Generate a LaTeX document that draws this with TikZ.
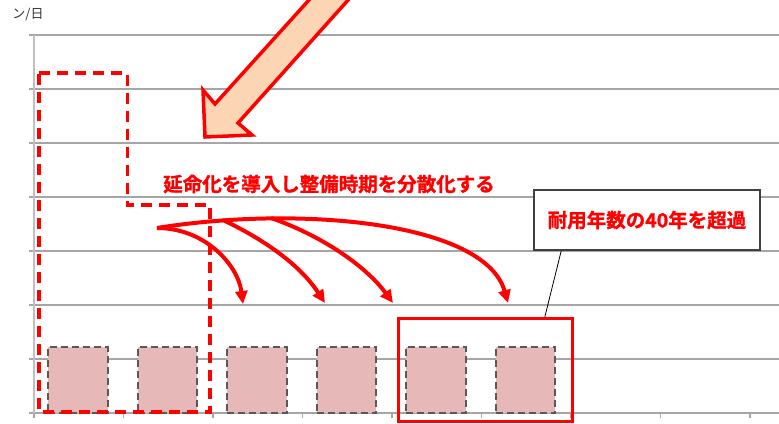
\documentclass[tikz,border=0pt]{standalone}
\usepackage{fontspec}
\newfontfamily\jp{Noto Sans CJK JP}
\newfontfamily\jpb[BoldFont={* Bold}, BoldFeatures={FakeBold=1.3}]{Noto Sans CJK JP}
\usetikzlibrary{arrows.meta,calc}
\definecolor{gridc}{HTML}{A6A6A6}
\definecolor{axisc}{HTML}{C0C0C0}
\definecolor{barfill}{HTML}{E6B9B8}
\definecolor{barline}{HTML}{595959}
\definecolor{arrowfill}{HTML}{FCD5B5}
\definecolor{redc}{HTML}{FF0000}
\definecolor{boxline}{HTML}{404040}
\tikzset{
  gridline/.style={draw=gridc, line width=1.3pt},
  axisline/.style={draw=axisc, line width=2pt},
  bar/.style={draw=barline, fill=barfill, line width=2pt, dash pattern=on 7pt off 4pt,
              minimum width=59.5pt, minimum height=66pt, inner sep=0pt},
  reddash/.style={draw=redc, line width=3.2pt, dash pattern=on 11pt off 7pt},
  bigarrow/.style={draw=redc, fill=arrowfill, line width=3.5pt, line join=miter},
  redtext/.style={text=redc, font=\jpb\bfseries\fontsize{19.5}{22}\selectfont, inner sep=0pt},
  callout/.style={draw=boxline, fill=white, line width=1.5pt, minimum width=226pt,
                  minimum height=60pt, text=redc, font=\jpb\bfseries\fontsize{19.5}{22}\selectfont},
  redbox/.style={draw=redc, line width=3pt, minimum width=173.7pt, minimum height=103.4pt, inner sep=0pt},
  pointer/.style={draw=black, line width=0.8pt},
  curvearrow/.style={draw=redc, line width=4pt, -{Triangle[length=13pt,width=12pt]}},
  unitlabel/.style={font=\jp\fontsize{13}{15}\selectfont, text=black!80, inner sep=0pt}
}
\begin{document}
\begin{tikzpicture}[x=1pt,y=-1pt]
\useasboundingbox (0,0) rectangle (779,423);
\clip (0,0) rectangle (779,423);
% grid
\foreach \y in {35,89,143,197,251,305,359,413}
  \draw[gridline] (29,\y) -- (779,\y);
\draw[axisline] (34,35) -- (34,418);
\foreach \x in {34,123.5,213,302.5,392,481.5,571,660.5,750}
  \draw[gridline] (\x,413) -- (\x,418);
\node[unitlabel] (unit) at (28,15) {ン/日};
% bars
\foreach \i/\x in {1/78,2/167.5,3/257,4/346.5,5/436,6/525.5}
  \node[bar] (b\i) at (\x,380) {};
% red dashed outline
\draw[reddash] (39,73) -- (127.5,73) -- (127.5,205) -- (210,205) -- (210,412) -- (39,412) -- cycle;
% big block arrow
\filldraw[bigarrow] (205,137) -- (203,90) -- (215,104) -- (327,-20) -- (366,-20) -- (238,123) -- (252,135) -- cycle;
% label
\node[redtext] (lbl) at (329,184) {延命化を導入し整備時期を分散化する};
% red box and callout
\node[redbox] (rb) at (485.2,370) {};
\node[callout] (co) at (647,220) {耐用年数の40年を超過};
\draw[pointer] ($(co.south west)+(28,0)$) -- ($(rb.north west)+(148,0)$);
% curved arrows
\coordinate (s) at (157,228);
\coordinate (br2) at (223,220);
\coordinate (br3) at (271,218);
\coordinate (t1) at (243,304);
\coordinate (t2) at (325,303);
\coordinate (t3) at (393,303);
\coordinate (t4) at (508,303);
\draw[curvearrow] (s) .. controls (300,205) and (485,222) .. (t4);
\draw[curvearrow] (br3) .. controls (320,235) and (365,265) .. (t3);
\draw[curvearrow] (br2) .. controls (265,240) and (300,265) .. (t2);
\draw[curvearrow] (s) .. controls (205,228) and (238,265) .. (t1);
\end{tikzpicture}
\end{document}
